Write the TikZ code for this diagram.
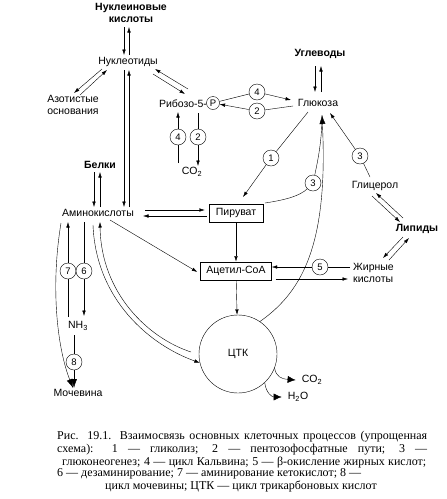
\documentclass[tikz,border=0pt]{standalone}
\usepackage{fontspec}
\setmainfont{Liberation Sans}
\newfontfamily\capfont{Liberation Serif}
\usetikzlibrary{arrows.meta}

\tikzset{
  lbl/.style={inner sep=1pt, align=center, font=\fontsize{10.5}{11.5}\selectfont},
  headlbl/.style={lbl, font=\fontsize{10.5}{11.5}\selectfont\bfseries},
  numcirc/.style={circle, draw, fill=white, inner sep=0pt, minimum size=16pt, font=\fontsize{9.5}{10}\selectfont},
  procbox/.style={draw, inner sep=0pt, minimum height=18.5pt, font=\fontsize{10.5}{11.5}\selectfont},
  arr/.style={-{Latex[length=5.5pt,width=3.5pt]}},
  bigarr/.style={-{Latex[length=9pt,width=6pt]}},
  outarr/.style={-{Latex[length=8pt,width=7pt]}},
  capline/.style={inner sep=0pt, anchor=west, font=\capfont\fontsize{12}{12}\selectfont}
}

\begin{document}
\begin{tikzpicture}[x=1pt,y=-1pt]
\useasboundingbox (0,0) rectangle (447,499);

% nucleotides
\node[headlbl] (nk) at (131,13) {Нуклеиновые\\кислоты};
\node[lbl] (nt) at (128,62) {Нуклеотиды};
\node[lbl] (az) at (73,105) {Азотистые\\основания};
\node[lbl] (rib) at (183,104) {Рибозо-5-};
\node[circle,draw,inner sep=0.5pt,minimum size=13pt,font=\fontsize{9.5}{10}\selectfont] (ph) at (213,103) {P};
\node[numcirc] (c4a) at (178,137) {4};
\node[numcirc] (c2a) at (198,137) {2};
\node[lbl] (co2a) at (192,172) {CO\textsubscript{2}};

% carbohydrates
\node[headlbl] (ug) at (320,54) {Углеводы};
\node[lbl] (gl) at (318,103) {Глюкоза};
\node[numcirc] (c4b) at (257,92) {4};
\node[numcirc] (c2b) at (257,111) {2};
\node[numcirc] (c1) at (271,158) {1};
\node[numcirc] (c3a) at (360,156) {3};
\node[lbl] (gc) at (375,186) {Глицерол};
\node[numcirc] (c3b) at (313,183) {3};

% central part
\node[procbox,minimum width=54pt] (pir) at (236,213) {Пируват};
\node[procbox,minimum width=71pt] (ac) at (236,271) {Ацетил-СоА};
\node[headlbl] (lip) at (417,229) {Липиды};
\node[lbl,anchor=west,align=left] (zk) at (352,273) {Жирные\\кислоты};
\node[numcirc] (c5) at (320,267) {5};
\node[circle,draw,minimum size=78pt,font=\fontsize{10.5}{11.5}\selectfont] (ctk) at (238,354) {ЦТК};
\node[lbl] (co2b) at (312,380) {CO\textsubscript{2}};
\node[lbl] (h2o) at (298,397) {H\textsubscript{2}O};

% amino acids
\node[headlbl] (bel) at (100,165) {Белки};
\node[lbl] (am) at (98,213) {Аминокислоты};
\node[numcirc] (c7) at (68,271) {7};
\node[numcirc] (c6) at (84,271) {6};
\node[lbl] (nh3) at (78,326) {NH\textsubscript{3}};
\node[numcirc] (c8) at (74,362) {8};
\node[lbl] (moc) at (78,393) {Мочевина};

% top
\draw[arr] ([shift={(-7,14)}]nk.center) -- ([shift={(-4,-7)}]nt.center);
\draw[arr] ([shift={(1,-7)}]nt.center) -- ([shift={(-2,14)}]nk.center);
\draw[arr] ([shift={(-26,7)}]nt.center) -- ([shift={(1,-12)}]az.center);
\draw[arr] ([shift={(7,-10)}]az.center) -- ([shift={(-21,8)}]nt.center);
\draw[arr] ([shift={(5,-15)}]rib.center) -- ([shift={(27,7)}]nt.center);
\draw[arr] ([shift={(25,12)}]nt.center) -- ([shift={(2,-10)}]rib.center);
\draw ([shift={(-14,-9)}]co2a.center) -- (c4a);
\draw[arr] (c4a) -- ([shift={(-5,8)}]rib.center);
\draw ([shift={(15,9)}]rib.center) -- (c2a);
\draw[arr] (c2a) -- ([shift={(6,-6)}]co2a.center);
\draw (ph) -- (c4b);
\draw[arr] (c4b) -- ([shift={(-27,-3)}]gl.center);
\draw ([shift={(-25,3)}]gl.center) -- (c2b);
\draw[arr] (c2b) -- (ph);
\draw[arr] ([shift={(-5,12)}]ug.center) -- ([shift={(-3,-11)}]gl.center);
\draw[arr] ([shift={(3,-11)}]gl.center) -- ([shift={(1,12)}]ug.center);

% glucose
\draw ([shift={(-10,9)}]gl.center) -- (c1);
\draw[arr] (c1) -- ([shift={(7,-16)}]pir.center);
\draw ([shift={(-5,-9)}]gc.center) -- (c3a);
\draw[arr] (c3a) -- ([shift={(12,10)}]gl.center);
\draw ([shift={(29,-10)}]pir.center) .. controls (285,200) and (300,196) .. (c3b);
\draw (c3b) .. controls (318,160) and (322,140) .. ([shift={(4,12)}]gl.center);
\draw[bigarr] (ctk.56) .. controls (305,290) and (328,240) .. ([shift={(4,12)}]gl.center);

% lipids
\draw[arr] ([shift={(-3,10)}]gc.center) -- ([shift={(-17,-7)}]lip.center);
\draw[arr] ([shift={(-14,-11)}]lip.center) -- ([shift={(1,7)}]gc.center);
\draw[arr] ([shift={(37,-13)}]zk.west) -- ([shift={(-8,9)}]lip.center);
\draw[arr] ([shift={(-14,8)}]lip.center) -- ([shift={(31,-15)}]zk.west);
\draw ([shift={(-2,-6)}]zk.west) -- (c5);
\draw[arr] (c5) -- ([shift={(0,-4)}]ac.east);
\draw[arr] ([shift={(4,8)}]ac.east) -- ([shift={(-4,6)}]zk.west);

% pyruvate, TCA
\draw[arr] (pir) -- (ac);
\draw[arr] (ac) -- (ctk);
\draw[outarr] (ctk.-21) .. controls (276,377) and (282,379) .. ([shift={(-5,0)}]co2b.west);
\draw[outarr] (ctk.-47) .. controls (266,393) and (272,397) .. ([shift={(-5,0)}]h2o.west);

% amino acids
\draw[arr] ([shift={(47,-3)}]am.center) -- ([shift={(-4,-3)}]pir.west);
\draw[arr] ([shift={(-2,3)}]pir.west) -- ([shift={(45,3)}]am.center);
\draw[arr] ([shift={(12,7)}]am.center) -- ([shift={(-3,1)}]ac.west);
\draw[arr] ([shift={(-4,8)}]nt.center) -- ([shift={(26,-6)}]am.center);
\draw[arr] ([shift={(31,-6)}]am.center) -- ([shift={(1,8)}]nt.center);
\draw[arr] ([shift={(-6,7)}]bel.center) -- ([shift={(-4,-6)}]am.center);
\draw[arr] ([shift={(2,-6)}]am.center) -- ([shift={(0,7)}]bel.center);
\draw ([shift={(-10,-9)}]nh3.center) -- (c7);
\draw[arr] (c7) -- ([shift={(-30,9)}]am.center);
\draw ([shift={(-14,9)}]am.center) -- (c6);
\draw[arr] (c6) -- ([shift={(6,-10)}]nh3.center);
\draw ([shift={(-4,9)}]nh3.center) -- (c8);
\draw[bigarr] (c8) -- ([shift={(-4,-5)}]moc.center);
\draw[bigarr] ([shift={(-37,10)}]am.center) .. controls (50,290) and (58,350) .. ([shift={(-5,-5)}]moc.center);
\draw[arr] ([shift={(-5,12)}]am.center) .. controls (96,300) and (150,345) .. (ctk.193);
\draw[arr] ([shift={(-47,-2)}]ctk.center) .. controls (148,338) and (101,293) .. ([shift={(2,9)}]am.center);

% caption
\node[capline] (cap1) at (57,437) {\makebox[370pt][s]{Рис. 19.1. Взаимосвязь основных клеточных процессов (упрощенная}};
\node[capline] (cap2) at (57,450) {\makebox[370pt][s]{схема): 1 — гликолиз; 2 — пентозофосфатные пути; 3 —}};
\node[capline] (cap3) at (62,463) {\makebox[364pt][s]{глюконеогенез; 4 — цикл Кальвина; 5 — β-окисление жирных кислот;}};
\node[capline] (cap4) at (57,474) {6 — дезаминирование; 7 — аминирование кетокислот; 8 —};
\node[capline,anchor=center] (cap5) at (241,486) {цикл мочевины; ЦТК — цикл трикарбоновых кислот};
\end{tikzpicture}
\end{document}
